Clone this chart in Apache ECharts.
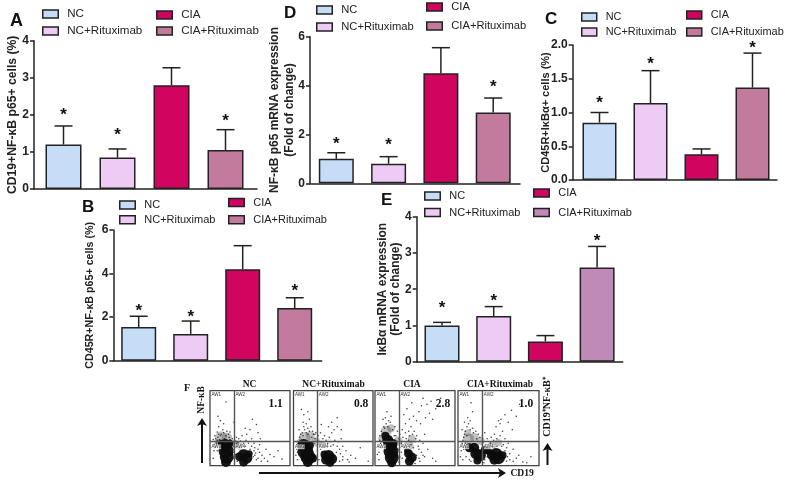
<!DOCTYPE html>
<html><head><meta charset="utf-8">
<style>html,body{margin:0;padding:0;background:#fff}#c{width:789px;height:484px}</style>
<script src="https://cdn.jsdelivr.net/npm/echarts@6/dist/echarts.min.js"></script>
</head><body><div id="c"></div>
<script>
const categories = ['NC','NC+Rituximab','CIA','CIA+Rituximab'];

const aMeans = [1.2,0.85,2.8,1.05];
const aTops  = [1.7,1.08,3.27,1.6];
const aStars = [2.05,1.49,null,1.89];

const dMeans = [1.0,0.8,4.5,2.9];
const dTops  = [1.25,1.09,5.55,3.49];
const dStars = [1.66,1.62,null,4.02];

const cMeans = [0.85,1.14,0.38,1.37];
const cTops  = [1.0,1.62,0.46,1.88];
const cStars = [1.165,1.74,null,1.975];

const bMeans = [1.55,1.23,4.2,2.42];
const bTops  = [2.04,1.82,5.28,2.89];
const bStars = [2.37,2.07,null,3.29];

const eMeans = [1.0,1.26,0.56,2.6];
const eTops  = [1.085,1.52,0.72,3.18];
const eStars = [1.54,1.72,null,3.39];

// flow plots: [CD19 %, NF-kB %], dense cores carry a dot size
const ncCore = [[20,5,10],[21,12,14],[20,20,15],[19,27,13],[14,30,7],[25,30,7],[37,12,9],[42,15,11],[46,10,11],[42,5,9],[49,16,7]];
const ncHaze = [[14,38,12],[21,37,11],[10,30,8],[31,29,8],[37,26,7]];
const ncDots = [[8,32],[12,35],[15,30],[10,38],[18,36],[22,33],[26,30],[14,42],[20,40],[9,45],[16,48],[24,38],[28,36],[31,34],[35,31],[38,33],[33,38],[42,30],[45,34],[40,40],[46,42],[52,36],[50,48],[58,55],[60,44],[55,30],[62,28],[70,22],[75,15],[80,12],[68,10],[62,18],[58,8],[72,6],[65,14],[5,28],[4,35],[6,40],[11,52],[13,60],[10,66],[17,56],[25,45],[30,58],[44,50],[53,62],[63,36],[37,24],[30,26],[7,25],[12,26],[17,27],[27,25],[5,20],[4,10],[34,6],[30,10],[29,18],[55,20],[50,22],[20,85],[90,9],[85,20],[56,14],
 [9,34],[13,40],[17,44],[21,46],[25,35],[28,32],[7,36],[11,42],[19,34],[23,42],[33,30],[36,36],[40,28],[44,26],[48,30],[52,26],[56,24],[60,22],[54,12],[57,17],[60,10],[64,6],[8,30],[6,24],[9,20],[30,22],[32,15],[33,24]];

const nrCore = [[18,5,10],[18,12,15],[15,19,16],[13,27,13],[20,27,9],[24,10,9],[41,8,10],[44,13,12],[48,9,11],[39,15,8],[46,4,8]];
const nrHaze = [[14,37,12],[21,40,9],[9,31,8],[28,32,9],[37,28,7]];
const nrDots = [[6,30],[8,38],[11,44],[14,48],[18,50],[22,52],[16,56],[12,58],[24,46],[27,42],[31,40],[34,44],[37,36],[41,34],[45,38],[48,44],[51,48],[55,52],[52,34],[56,32],[60,36],[62,26],[58,22],[66,20],[72,14],[78,10],[84,24],[68,8],[62,12],[58,6],[4,22],[3,14],[5,8],[30,20],[32,8],[30,14],[20,62],[13,68],[18,72],[10,75],[44,52],[48,58],[35,55],[60,48],[7,48],[26,30],[33,28],[54,18],[47,26],[70,5],[94,6],[55,64],
 [9,42],[12,40],[16,44],[20,46],[23,38],[27,36],[30,34],[13,52],[18,42],[25,42],[35,32],[39,40],[43,30],[46,32],[50,28],[55,26],[59,16],[62,8],[5,18],[7,26],[34,22],[36,18],[30,26],[28,44]];

const ciCore = [[21,4,9],[21,11,14],[20,19,15],[19,27,14],[16,34,11],[13,40,8],[23,30,8],[42,16,9],[46,11,10],[43,6,9],[40,20,6]];
const ciHaze = [[14,46,11],[20,50,8],[9,36,8],[29,33,9],[42,27,10],[46,36,8]];
const ciDots = [[7,30],[6,40],[8,46],[11,52],[14,56],[17,60],[13,64],[20,66],[10,62],[25,52],[28,46],[31,42],[34,48],[38,44],[42,46],[45,52],[49,46],[52,40],[56,34],[54,26],[60,30],[58,18],[62,12],[66,22],[72,10],[76,6],[38,56],[43,62],[48,66],[52,60],[57,56],[63,64],[68,70],[72,62],[76,76],[65,82],[58,80],[55,72],[46,84],[40,76],[36,68],[60,90],[70,86],[82,90],[33,30],[30,22],[31,12],[30,5],[4,25],[3,15],[5,8],[55,10],[50,3],[24,40],[15,72],[50,32],[45,28],[62,42],
 [9,42],[12,50],[16,52],[19,58],[22,48],[26,40],[30,36],[6,34],[35,38],[39,36],[43,40],[47,42],[51,36],[55,22],[52,14],[56,6],[60,14],[8,24],[5,18],[33,18],[34,10],[36,24],[42,34],[48,24]];

const crCore = [[20,24,10],[14,24,9],[27,14,12],[24,7,8],[22,16,11],[33,21,8],[38,19,7],[42,14,10],[47,15,13],[50,10,12],[45,8,10],[55,14,8]];
const crHaze = [[13,36,11],[20,38,9],[12,44,7],[28,33,8],[42,27,8],[50,31,7]];
const crDots = [[5,30],[7,38],[9,46],[11,52],[13,56],[15,60],[18,50],[22,46],[25,42],[8,58],[12,64],[5,48],[30,40],[33,44],[36,36],[41,38],[45,42],[48,36],[52,40],[55,46],[52,56],[47,52],[58,36],[62,30],[60,24],[64,16],[68,22],[72,10],[68,6],[75,14],[80,5],[60,6],[53,62],[58,68],[50,60],[62,58],[66,74],[72,66],[76,82],[67,48],[56,28],[4,20],[3,12],[6,8],[14,8],[33,8],[18,72],[16,84],[90,12],[85,4],[30,28],
 [8,42],[11,40],[15,48],[19,44],[23,36],[27,38],[6,34],[9,30],[7,22],[31,32],[35,28],[40,30],[44,34],[48,26],[54,26],[58,20],[61,12],[64,8],[57,8],[10,12],[16,6],[32,4],[36,12]];

const flowVals = ['1.1','0.8','2.8','1.0'];
const flowTitles = ['NC','NC+Rituximab','CIA','CIA+Rituximab'];

const SANS = '"Liberation Sans", Arial, sans-serif';
const SERIF = '"Liberation Serif", "Times New Roman", serif';
const INK = '#222';

const blue='#C5DDF7', pink='#EDCBF5', red='#CF0560', mauve='#C27B9D', plum='#BF8AB8';

const panels = [
 {key:'A',means:aMeans,tops:aTops,stars:aStars,max:4,step:1,dec:0,left:34,end:257,top:40.7,bottom:189,c0:63.5,sp:54,bw:36,cap:9,
  title:'CD19+NF-κB p65+ cells (%)',tsize:12.2,lh:14,gap:14,colors:[blue,pink,red,mauve],
  leg:[[42,14,11.6],[42,31,11.6],[156,15,11.6],[156,31,11.6]],lw:15.5},
 {key:'D',means:dMeans,tops:dTops,stars:dStars,max:6,step:2,dec:0,left:310,end:520,top:36.7,bottom:183.3,c0:336.3,sp:52.3,bw:35,cap:9,
  title:'NF-κB p65 mRNA expression\n(Fold of change)',tsize:12,lh:15,gap:13,colors:[blue,pink,red,mauve],
  leg:[[316,10,11.2],[316,27,11.2],[426,7,11.2],[426,26,11.2]],lw:15.5},
 {key:'C',means:cMeans,tops:cTops,stars:cStars,max:2,step:0.5,dec:1,left:572.7,end:777,top:45,bottom:180,c0:599.5,sp:51,bw:34,cap:9,
  title:'CD45R+IκBα+ cells (%)',tsize:11,lh:14,gap:20,colors:[blue,pink,red,mauve],
  leg:[[581,17,10.9],[581,32,10.9],[686,15,10.9],[686,32,10.9]],lw:15},
 {key:'B',means:bMeans,tops:bTops,stars:bStars,max:6,step:2,dec:0,left:113.3,end:321.7,top:230,bottom:360.7,c0:138.7,sp:52,bw:35,cap:9,
  title:'CD45R+NF-κB p65+ cells (%)',tsize:10.7,lh:14,gap:16,colors:[blue,pink,red,mauve],
  leg:[[119,205,11],[119,219.7,11],[228,202.5,11],[228,219.7,11]],lw:15.5},
 {key:'E',means:eMeans,tops:eTops,stars:eStars,max:4,step:1,dec:0,left:416.7,end:622.7,top:216.7,bottom:361.7,c0:442,sp:51.7,bw:35,cap:9,
  title:'IκBα mRNA expression\n(Fold of change)',tsize:12,lh:13,gap:14.5,colors:[blue,pink,red,plum],
  leg:[[424,196,11],[424,212.5,11],[533,193,11],[533,212.5,11]],lw:15.5}
];

const grid=[],xAxis=[],yAxis=[],series=[],legend=[],graphic=[];

panels.forEach((p,pi)=>{
  grid.push({left:p.left,top:p.top,width:p.end-p.left,height:p.bottom-p.top});
  xAxis.push({gridIndex:pi,type:'value',min:-(p.c0-p.left)/p.sp,max:(p.end-p.c0)/p.sp,
    axisLine:{show:true,lineStyle:{color:INK,width:1.5}},axisTick:{show:false},axisLabel:{show:false},splitLine:{show:false}});
  yAxis.push({gridIndex:pi,type:'value',min:0,max:p.max,interval:p.step,
    name:p.title,nameLocation:'middle',nameRotate:90,nameGap:p.gap,nameMoveOverlap:false,
    nameTextStyle:{fontFamily:SANS,fontWeight:'bold',fontSize:p.tsize,color:INK,lineHeight:p.lh},
    axisLine:{show:true,onZero:false,lineStyle:{color:INK,width:1.5}},
    axisTick:{show:true,length:4,lineStyle:{color:INK,width:1.5}},
    axisLabel:{fontFamily:SANS,fontWeight:'bold',fontSize:12,color:INK,margin:5,formatter:v=>v.toFixed(p.dec)},
    splitLine:{show:false}});
  categories.forEach((name,i)=>{
    series.push({type:'bar',id:p.key+'-'+i,name,xAxisIndex:pi,yAxisIndex:pi,barWidth:p.bw,barGap:'-100%',
      data:[[i,p.means[i]]],itemStyle:{color:p.colors[i],borderColor:INK,borderWidth:1.5},
      animation:false,silent:true});
    const [sx,cy,fs]=p.leg[i];
    legend.push({show:true,data:[{name,icon:'rect',itemStyle:{color:p.colors[i],borderColor:INK,borderWidth:1.5}}],
      left:sx,top:cy-8,padding:0,itemWidth:p.lw,itemHeight:8,selectedMode:false,
      textStyle:{fontFamily:SANS,fontSize:fs,color:INK,padding:[0,0,0,4],lineHeight:16,height:16}});
  });
  series.push({type:'custom',id:p.key+'-err',xAxisIndex:pi,yAxisIndex:pi,silent:true,animation:false,z:5,
    data:categories.map((_,i)=>[i,p.means[i],p.tops[i],p.stars[i]===null?-1:p.stars[i]]),
    renderItem:(params,api)=>{
      const x=api.value(0);
      const a=api.coord([x,api.value(1)]),b=api.coord([x,api.value(2)]);
      const st={stroke:INK,lineWidth:1.5};
      const ch=[
        {type:'line',shape:{x1:a[0],y1:a[1],x2:b[0],y2:b[1]},style:st},
        {type:'line',shape:{x1:b[0]-p.cap,y1:b[1],x2:b[0]+p.cap,y2:b[1]},style:st}];
      if(api.value(3)>=0){
        const s=api.coord([x,api.value(3)]);
        ch.push({type:'text',style:{text:'*',x:s[0],y:s[1]+2,align:'center',verticalAlign:'middle',
          font:'bold 17px '+SANS,fill:'#111'}});
      }
      return {type:'group',children:ch};
    }});
});

// flow cytometry panels
const flow=[
 {left:210,right:290,core:ncCore,haze:ncHaze,dots:ncDots,vx:82,tc:249.5},
 {left:293.5,right:373,core:nrCore,haze:nrHaze,dots:nrDots,vx:85,tc:333.5},
 {left:375,right:455,core:ciCore,haze:ciHaze,dots:ciDots,vx:85,tc:412},
 {left:458,right:539,core:crCore,haze:crHaze,dots:crDots,vx:84,tc:500}
];
const FT=390.7,FB=465.7,GATE_X=30,GATE_Y=32;
flow.forEach((f,k)=>{
  const gi=grid.length;
  grid.push({left:f.left,top:FT,width:f.right-f.left,height:FB-FT,show:true,borderColor:'#444',borderWidth:1.3,backgroundColor:'#fff'});
  xAxis.push({gridIndex:gi,type:'value',min:0,max:100,show:false});
  yAxis.push({gridIndex:gi,type:'value',min:0,max:100,show:false});
  const common={type:'scatter',xAxisIndex:gi,yAxisIndex:gi,silent:true,animation:false};
  series.push(Object.assign({},common,{name:'flow-haze-'+k,data:f.haze,symbolSize:v=>v[2],
    itemStyle:{color:'#333',opacity:0.3}}));
  series.push(Object.assign({},common,{name:'flow-dots-'+k,data:f.dots,symbolSize:1.6,itemStyle:{color:'#111'},
    markLine:{silent:true,symbol:'none',animation:false,label:{show:false},lineStyle:{color:'#555',width:1.4,type:'solid'},
      data:[{xAxis:GATE_X},{yAxis:GATE_Y}]}}));
  series.push(Object.assign({},common,{name:'flow-core-'+k,data:f.core,symbolSize:v=>v[2],
    itemStyle:{color:'#0c0c0c',opacity:0.95}}));
  const w=f.right-f.left, gx=f.left+w*GATE_X/100;
  const gy=FB-(FB-FT)*GATE_Y/100;
  [['AW1',f.left+1.5,FT+1.5],['AW2',gx+1.5,FT+1.5],['AW3',f.left+1.5,gy+2.5],['AW4',gx+1.5,gy+2.5]].forEach(t=>{
    graphic.push({type:'text',x:t[1],y:t[2],z:20,style:{text:t[0],font:'4.5px '+SANS,fill:'#333',backgroundColor:'rgba(255,255,255,0.7)'}});
  });
  graphic.push({type:'text',x:f.left+w*f.vx/100,y:404,z:20,style:{text:flowVals[k],align:'center',verticalAlign:'middle',font:'bold 11.5px '+SERIF,fill:'#111'}});
  graphic.push({type:'text',x:f.tc,y:385,z:20,style:{text:flowTitles[k],align:'center',verticalAlign:'middle',font:'bold 9.5px '+SERIF,fill:'#111'}});
});

// panel letters
[['A',10,12,18],['D',284,5,17],['C',545,11,17],['B',82,199,17],['E',381,192,17]].forEach(t=>{
  graphic.push({type:'text',x:t[1],y:t[2],style:{text:t[0],font:'bold '+t[3]+'px '+SANS,fill:'#111'}});
});
graphic.push({type:'text',x:184,y:383,style:{text:'F',font:'bold 10px '+SERIF,fill:'#111'}});
graphic.push({type:'text',x:510.5,y:474,style:{text:'CD19',verticalAlign:'middle',font:'bold 9.5px '+SERIF,fill:'#111'}});
graphic.push({type:'text',x:201.5,y:400,rotation:Math.PI/2,
  style:{text:'NF-κB',align:'center',verticalAlign:'middle',font:'bold 9.5px '+SERIF,fill:'#111'}});
graphic.push({type:'text',x:547.5,y:407,rotation:Math.PI/2,
  style:{text:'CD19⁺NF-κB⁺',align:'center',verticalAlign:'middle',font:'bold 10px '+SERIF,fill:'#111'}});
// arrows
const arrows=[
 {shape:{x1:202,y1:463,x2:202,y2:424},head:[[202,418],[197,426],[202,424],[207,426]]},
 {shape:{x1:547.5,y1:465,x2:547.5,y2:449},head:[[547.5,443],[542.5,451],[547.5,449],[552.5,451]]},
 {shape:{x1:259,y1:473,x2:500,y2:473},head:[[506,473],[498,468],[500,473],[498,478]]}
];
arrows.forEach(a=>{
  graphic.push({type:'line',shape:a.shape,style:{stroke:'#111',lineWidth:2}});
  graphic.push({type:'polygon',shape:{points:a.head},style:{fill:'#111'}});
});

const chart=echarts.init(document.getElementById('c'),null,{renderer:'canvas'});
chart.setOption({animation:false,backgroundColor:'#fff',tooltip:{show:false},grid,xAxis,yAxis,legend,series,graphic});
</script></body></html>
